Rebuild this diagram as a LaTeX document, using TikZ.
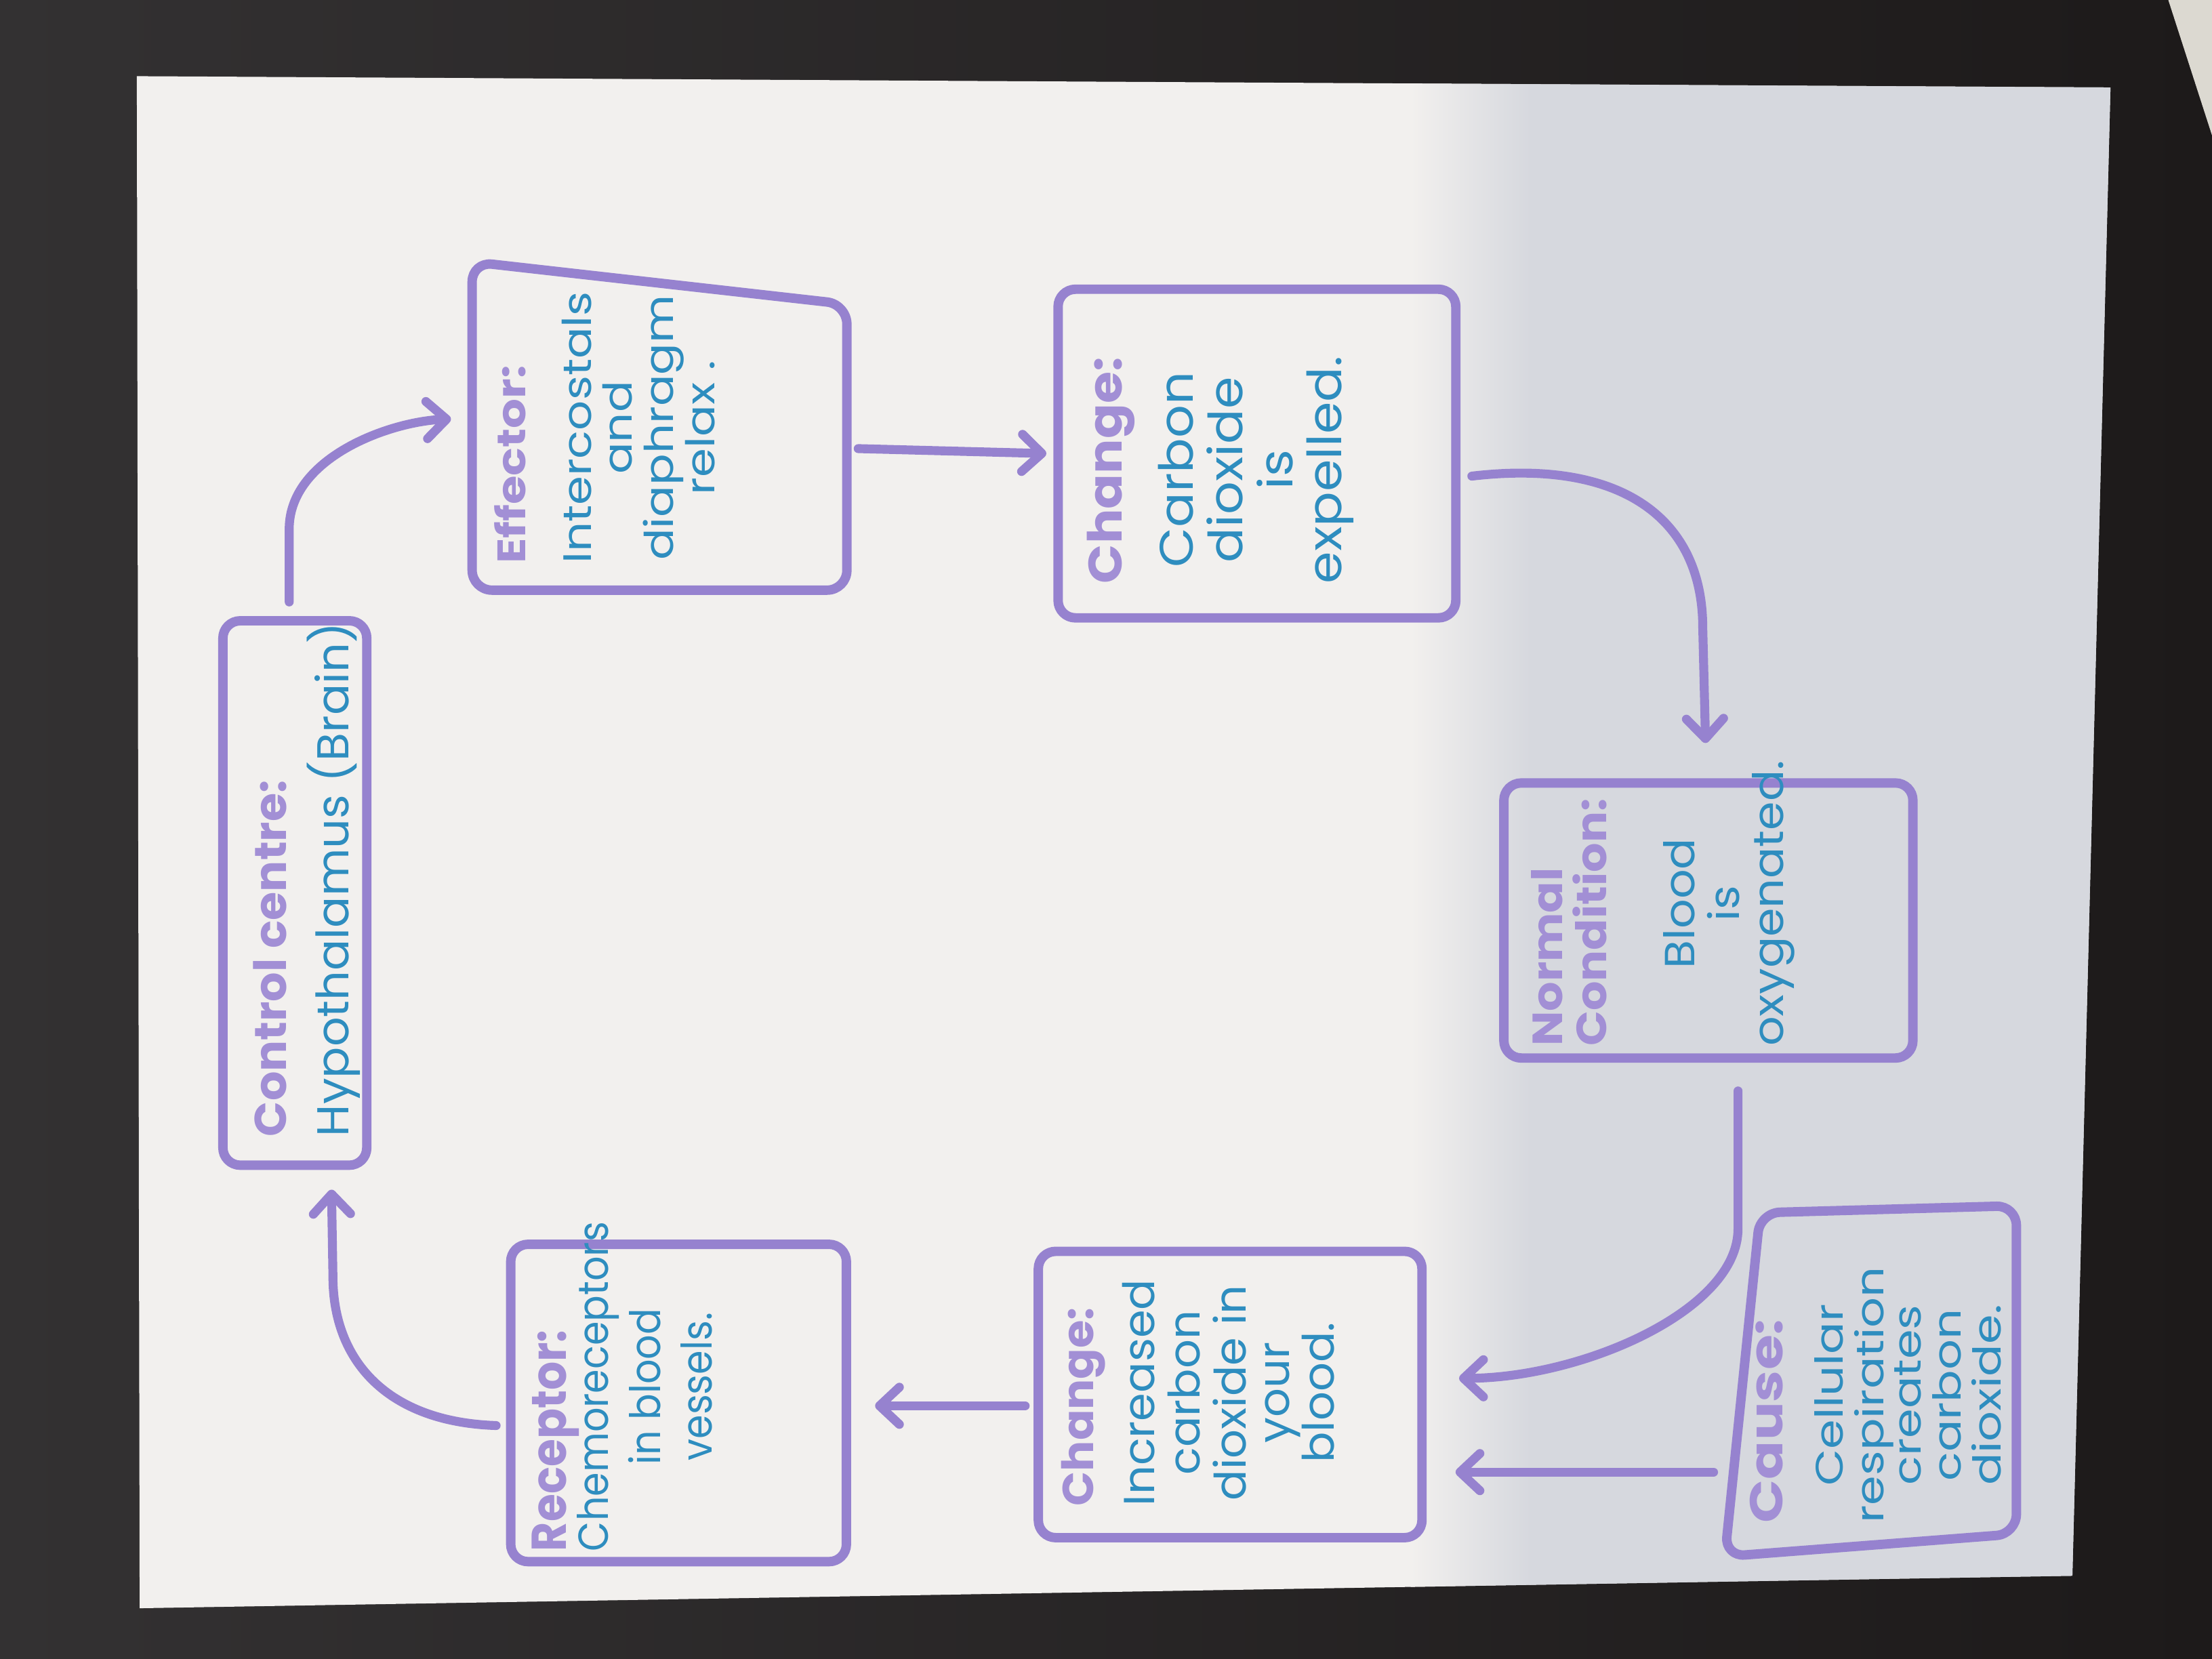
\documentclass[tikz,border=0pt]{standalone}
\usepackage{fontspec}
\setmainfont{Poppins}
\usepackage{graphicx}
\usetikzlibrary{arrows.meta,calc}
\definecolor{bgdark}{HTML}{333132}
\definecolor{bgdark2}{HTML}{1D1A1A}
\definecolor{paperL}{HTML}{F2F0EE}
\definecolor{paperD}{HTML}{D6D8DE}
\definecolor{pen}{HTML}{9682CF}
\definecolor{headp}{HTML}{A28FD5}
\definecolor{bodyb}{HTML}{2E8DBF}
\definecolor{lightpatch}{HTML}{DCD9D1}
\newcommand\boxheadS[2]{\multicolumn{1}{@{}l@{}}{\scalebox{#1}{\bfseries\color{headp}#2}}}
\newcommand\boxhead[1]{\boxheadS{1}{#1}}
\tikzset{
  boxnode/.style={draw=pen, line width=3.8pt, rounded corners=7pt, inner sep=0pt, line join=round},
  boxarea/.style={inner sep=0pt},
  boxline/.style={draw=pen, line width=3.8pt, rounded corners=8pt, line join=round},
  txt/.style={rotate=90, anchor=north west, inner sep=0pt, text=bodyb},
  arr/.style={draw=pen, line width=3.6pt, line cap=round, line join=round,
    -{Straight Barb[length=8pt,width=15pt,round]}}
}
\begin{document}
\begin{tikzpicture}[x=0.02cm, y=-0.02cm]
\useasboundingbox (0,0) rectangle (1568,1176);
% background
\shade[left color=bgdark, right color=bgdark2] (0,0) rectangle (1568,1176);
\fill[lightpatch] (1537,0) -- (1568,0) -- (1568,96) -- cycle;
% paper
\fill[paperL] (97,54) -- (1496,62) -- (1469,1117) -- (99,1140) -- cycle;
\begin{scope}
  \clip (97,54) -- (1496,62) -- (1469,1117) -- (99,1140) -- cycle;
  \shade[left color=paperL, right color=paperD] (1000,40) rectangle (1085,1150);
  \fill[paperD] (1084,40) rectangle (1510,1150);
\end{scope}

% boxes
\node[boxnode, minimum width=2.04cm, minimum height=7.72cm] (cc) at (209,633) {};
\node[boxarea, minimum width=5.3cm, minimum height=4.64cm] (eff) at (467.5,302) {};
\draw[boxline] (eff.north west) -- ($(eff.north east)+(0,30)$) -- (eff.south east) -- (eff.south west) -- cycle;
\node[boxnode, minimum width=5.64cm, minimum height=4.66cm] (ch1) at (891,321.5) {};
\node[boxnode, minimum width=5.8cm, minimum height=3.9cm] (nc) at (1211,652.5) {};
\node[boxarea, minimum width=4.12cm, minimum height=4.96cm] (cause) at (1326,979) {};
\draw[boxline] ($(cause.north west)+(25,5)$) -- (cause.north east) -- ($(cause.south east)+(0,-16)$) -- (cause.south west) -- cycle;
\node[boxnode, minimum width=5.44cm, minimum height=4.06cm] (ch2) at (872,988.5) {};
\node[boxnode, minimum width=4.76cm, minimum height=4.5cm] (rec) at (481,994.5) {};

% texts
\node[txt, font=\fontsize{18}{25}\selectfont] (cct) at (172,806)
  {\scalebox{1.04}[1]{\begin{tabular}{@{}c@{}}\boxhead{Control centre:}\\ Hypothalamus (Brain)\end{tabular}}};
\node[txt, font=\fontsize{16}{15.5}\selectfont] (efft) at (350,400)
  {\scalebox{1.18}[1]{\begin{tabular}{@{}c@{}}\boxhead{Effector:}\\[10pt] Intercostals\\ and\\ diaphragm\\ relax .\end{tabular}}};
\node[txt, font=\fontsize{19}{19}\selectfont] (ch1t) at (770,414)
  {\scalebox{1.1}[1]{\begin{tabular}{@{}c@{}}\boxhead{Change:}\\[9pt] Carbon\\ dioxide\\ is\\ expelled.\end{tabular}}};
\node[txt, font=\fontsize{17}{17}\selectfont] (nct) at (1085,742)
  {\scalebox{1.1}[1]{\begin{tabular}{@{}c@{}}\boxhead{Normal}\\[-1pt] \boxhead{Condition:}\\[18pt] Blood\\ is\\ oxygenated.\end{tabular}}};
\node[txt, font=\fontsize{15.5}{15}\selectfont] (causet) at (1240,1080)
  {\scalebox{1.24}[1]{\begin{tabular}{@{}c@{}}\boxheadS{1.2}{Cause:}\\[8.5pt] Cellular\\ respiration\\ creates\\ carbon\\ dioxide.\end{tabular}}};
\node[txt, font=\fontsize{17.5}{17.5}\selectfont] (ch2t) at (752,1068)
  {\scalebox{1.05}[1]{\begin{tabular}{@{}c@{}}\boxhead{Change:}\\[6.5pt] Increased\\ carbon\\ dioxide in\\ your\\ blood.\end{tabular}}};
\node[txt, font=\fontsize{17}{21}\selectfont] (rect) at (375,1100)
  {\scalebox{0.92}[1]{\begin{tabular}{@{}c@{}}\boxheadS{1.16}{Receptor:}\\[-4pt] Chemoreceptors\\ in blood\\ vessels.\end{tabular}}};

% connectors
\draw[arr] ($(cc.north)+(-4,-10)$) -- (205,375) .. controls (205,325) and (275,299) .. ($(eff.west)+(-15,-5)$);
\draw[arr] ($(eff.east)+(8,16)$) -- ($(ch1.west)+(-5,0)$);
\draw[arr] ($(ch1.east)+(8,16)$) .. controls (1150,325) and (1207,368) .. (1207,445) -- ($(nc.north)+(-2,-25)$);
\draw[arr] ($(nc.south)+(21,20)$) -- (1232,871) .. controls (1232,929) and (1121,977) .. ($(ch2.east)+(23,-11.5)$);
\draw[arr] ($(cause.west)+(-8,64.5)$) -- ($(ch2.east)+(20.5,55)$);
\draw[arr] ($(ch2.west)+(-6,8)$) -- ($(rec.east)+(17,2)$);
\draw[arr] ($(rec.west)+(-7,16)$) .. controls (275,1008) and (236,965) .. (236,905) -- ($(cc.south)+(26,14)$);
\end{tikzpicture}
\end{document}
